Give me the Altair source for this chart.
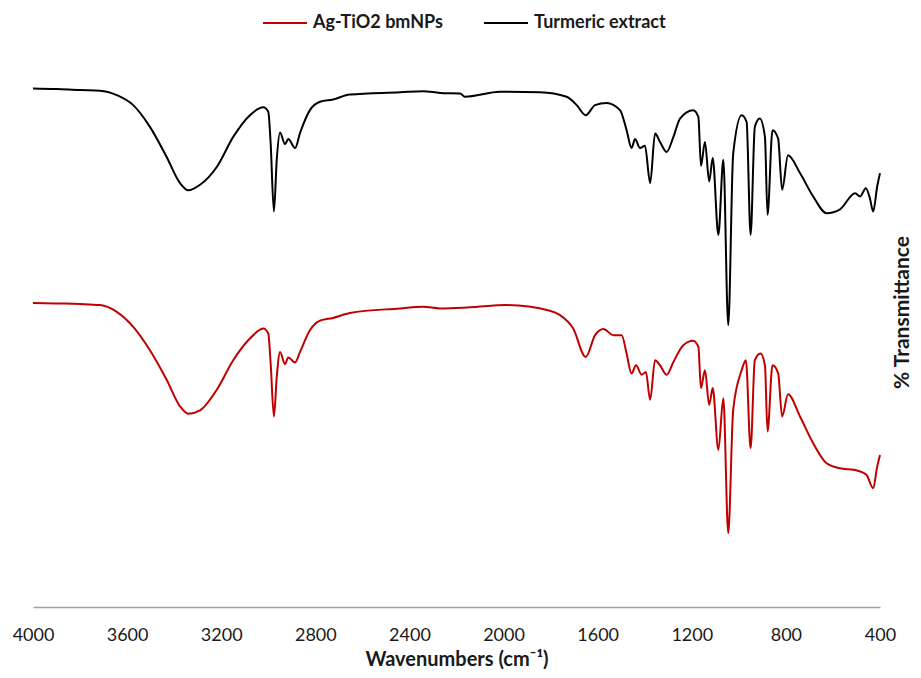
import altair as alt
import pandas as pd

# Turmeric extract (black) – wavenumber (cm-1) and %T (arbitrary offset)
turmeric_wn = [4000, 3900, 3800, 3715, 3644, 3574, 3503, 3432, 3375, 3340, 3290, 3219, 3149, 3078,
               3021, 3000, 2990, 2976, 2964, 2950, 2929, 2915, 2886, 2865, 2823, 2780, 2725, 2653,
               2440, 2342, 2270, 2185, 2164, 2015, 1845, 1732, 1689, 1651, 1611, 1562, 1505, 1477,
               1456, 1441, 1420, 1399, 1377, 1356, 1335, 1307, 1278, 1250, 1194, 1172, 1161, 1144,
               1126, 1111, 1087, 1066, 1045, 1024, 988, 967, 950, 932, 911, 889, 878, 857, 833, 816,
               791, 740, 684, 627, 570, 506, 485, 460, 443, 429, 412, 400]
turmeric_t = [93.1, 93.0, 92.8, 92.7, 91.9, 90.1, 86.2, 80.8, 76.1, 74.8, 75.8, 79.0, 84.4, 88.3,
              89.7, 88.9, 83.3, 71.0, 80.3, 85.2, 83.1, 84.0, 82.4, 85.1, 89.2, 90.7, 91.1, 92.0,
              92.4, 92.6, 92.3, 92.2, 91.6, 92.5, 92.4, 91.6, 90.1, 88.3, 90.1, 90.5, 89.2, 85.6,
              82.4, 84.0, 82.4, 82.8, 76.1, 85.0, 83.5, 81.7, 84.4, 87.7, 89.2, 88.0, 79.2, 83.5,
              76.4, 80.6, 66.8, 80.3, 50.6, 81.4, 88.3, 87.1, 66.8, 86.2, 87.7, 84.4, 70.4, 85.6, 84.1, 74.9,
              81.1, 77.9, 73.7, 70.7, 71.4, 74.3, 73.7, 75.2, 73.4, 71.0, 75.5, 77.9]

# Ag-TiO2 bmNPs (red)
agtio2_wn = [4000, 3900, 3800, 3715, 3644, 3574, 3503, 3432, 3375, 3340, 3290, 3219, 3149, 3078,
             3021, 3000, 2990, 2976, 2964, 2950, 2929, 2915, 2886, 2865, 2823, 2780, 2725, 2653,
             2440, 2342, 2270, 2143, 1987, 1803, 1760, 1704, 1651, 1611, 1576, 1533, 1498, 1477,
             1456, 1437, 1413, 1395, 1377, 1356, 1335, 1307, 1278, 1236, 1194, 1172, 1161, 1144,
             1126, 1111, 1087, 1066, 1045, 1024, 988, 970, 950, 932, 908, 889, 878, 857, 833, 816,
             791, 740, 684, 627, 570, 506, 457, 429, 412, 400]
agtio2_t = [54.6, 54.5, 54.4, 54.2, 53.0, 50.3, 46.1, 40.8, 36.0, 34.7, 35.3, 39.0, 44.3, 48.2,
            50.0, 49.1, 43.8, 34.2, 41.3, 45.8, 43.6, 44.8, 43.9, 45.8, 49.7, 51.4, 51.9, 52.8,
            53.6, 53.9, 53.6, 53.8, 54.2, 53.2, 52.4, 50.0, 44.9, 48.8, 49.9, 48.8, 48.8, 45.5,
            41.9, 43.4, 41.7, 42.2, 37.2, 44.3, 43.4, 41.7, 44.0, 47.0, 47.8, 46.7, 39.3, 42.5,
            36.3, 39.3, 28.2, 37.5, 13.3, 35.4, 42.5, 44.3, 28.5, 44.3, 45.5, 43.4, 31.5, 43.4, 42.0, 34.2,
            38.2, 34.2, 29.4, 25.8, 24.9, 24.6, 23.7, 21.3, 25.2, 27.3]

series_names = ["Ag-TiO2 bmNPs", "Turmeric extract"]
series_colors = ["#C00000", "#000000"]
x_ticks = [4000, 3600, 3200, 2800, 2400, 2000, 1600, 1200, 800, 400]

df = pd.concat([
    pd.DataFrame({"wn": agtio2_wn, "T": agtio2_t, "series": series_names[0], "order": 0}),
    pd.DataFrame({"wn": turmeric_wn, "T": turmeric_t, "series": series_names[1], "order": 1}),
])

chart = alt.Chart(df).mark_line(strokeWidth=2, interpolate="monotone").encode(
    x=alt.X("wn:Q",
            scale=alt.Scale(domain=[4000, 400], nice=False, zero=False),
            axis=alt.Axis(values=x_ticks, format="d", title="Wavenumbers (cm⁻¹)", ticks=False, grid=False,
                          domainColor="#a0a0a0", domainWidth=1.5, labelFont="Lato", labelFontSize=18,
                          labelColor="#1a1a1a", labelPadding=19, labelFlush=False, labelOverlap=False,
                          titleFont="Lato", titleFontSize=20, titleFontWeight="bold",
                          titleColor="#1a1a1a", titlePadding=5)),
    y=alt.Y("T:Q",
            scale=alt.Scale(domain=[0, 100], nice=False),
            axis=alt.Axis(orient="right", labels=False, ticks=False, domain=False, grid=False,
                          title="% Transmittance", titleAngle=270, titleFont="Lato",
                          titleFontSize=21, titleFontWeight="bold", titleColor="#1a1a1a",
                          titleX=22, titleY=262, titleAlign="center", titleBaseline="middle")),
    color=alt.Color("series:N",
                    scale=alt.Scale(domain=series_names, range=series_colors),
                    legend=alt.Legend(orient="none", legendX=229, legendY=-50, direction="horizontal",
                                      title=None, symbolType="stroke", symbolSize=1936,
                                      symbolStrokeWidth=2, labelFont="Lato", labelFontWeight="bold",
                                      labelFontSize=18, labelColor="#1a1a1a", labelOffset=5,
                                      columnPadding=37, padding=0, labelLimit=300)),
    detail="series:N",
    order="order:Q",
).properties(
    width=847,
    height=557,
    autosize=alt.AutoSizeParams(type="none"),
    padding={"left": 25, "top": 42, "right": 33, "bottom": 63},
).configure_view(stroke=None)

chart.save("out.html", embed_options={"renderer": "svg", "actions": False})
